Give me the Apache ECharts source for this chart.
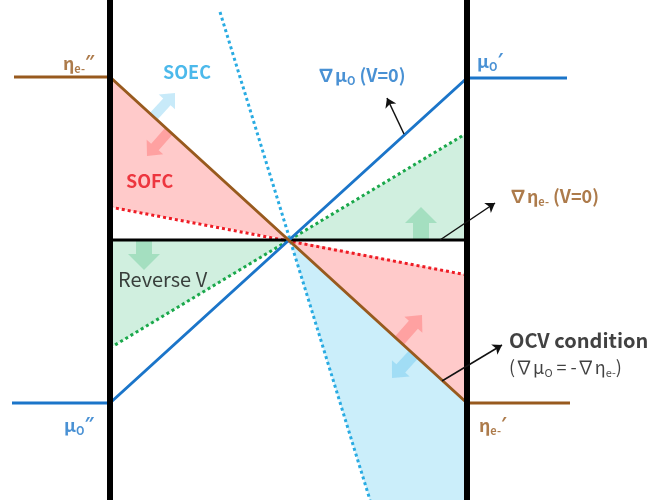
<!DOCTYPE html>
<html>
<head>
<meta charset="utf-8">
<script src="https://cdn.jsdelivr.net/npm/echarts@6/dist/echarts.min.js"></script>
<style>
html, body { margin: 0; padding: 0; background: #fff; }
#chart { width: 654px; height: 500px; }
</style>
</head>
<body>
<div id="chart"></div>
<script>
// diagram geometry, in picture units (x 0..654 left->right, y 0..500 top->bottom)
var wallLeft = [[110, 0], [110, 500]];
var wallRight = [[467, 0], [467, 500]];
var baseLine = [[110, 240], [467, 240]];
var muLine = [[12, 403], [110, 403], [467, 78], [567, 78]];
var etaLine = [[14, 77], [110, 77], [467, 403], [570, 403]];
var redDots = [[110, 207], [467, 275]];
var greenDots = [[110, 348], [467, 133]];
var cyanDots = [[220, 12], [370, 500]];

var pinkFills = [
  [[110, 77], [110, 207], [290, 240]],
  [[290, 240], [467, 275], [467, 403]]
];
var greenFills = [
  [[110, 240], [110, 348], [290, 240]],
  [[290, 240], [467, 133], [467, 240]]
];
var blueFills = [
  [[290, 240], [467, 403], [467, 500], [370, 500]]
];

// fat arrows: [tailX, tailY, tipX, tipY]
var blueArrowsSmall = [[153, 117, 175, 93]];
var pinkArrowsSmall = [[169, 131, 147, 156]];
var blueArrows = [[414, 354, 392, 378]];
var pinkArrows = [[399, 341, 422, 315]];
var greenArrows = [[144, 241, 144, 270], [421, 240, 421, 207]];

// thin pointer arrows: [fromX, fromY, toX, toY]
var pointers = [[404, 134, 387, 98], [440, 240, 495, 203], [442, 381, 502, 345]];

// text labels
var labelPos = [[63, 63], [163, 72], [126, 181], [317, 75], [477, 61], [509, 196],
  [118, 279], [509, 340], [509, 367], [479, 425], [64, 425]];
var labelText = [
  '{m|η}{s|e-}{p|″}',
  'SOEC',
  'SOFC',
  '{m|∇μ}{s|O}{m| (V=0)}',
  '{m|μ}{s|O}{p|′}',
  '{m|∇η}{s|e-}{m| (V=0)}',
  'Reverse V',
  'OCV condition',
  '{n|(∇μ}{t|O}{n| = -∇η}{t|e-}{n|)}',
  '{m|η}{s|e-}{p|′}',
  '{m|μ}{s|O}{p|″}'
];

var FONT = "'Noto Sans CJK KR', 'Noto Sans', sans-serif";
var BLUE = '#1b75c9', BROWN = '#985a1e';

function richFor(color) {
  return {
    m: { color: color, fontFamily: FONT, fontWeight: 'bold', fontSize: 18, lineHeight: 22 },
    p: { color: color, fontFamily: "'Noto Sans', sans-serif", fontWeight: 'bold', fontSize: 18, lineHeight: 22 },
    s: { color: color, fontFamily: FONT, fontWeight: 'bold', fontSize: 11, lineHeight: 14, verticalAlign: 'bottom' },
    n: { color: '#111', fontFamily: FONT, fontSize: 18, lineHeight: 22 },
    t: { color: '#111', fontFamily: FONT, fontSize: 11, lineHeight: 14, verticalAlign: 'bottom' }
  };
}
var labelColors = [BROWN, '#1fa8e6', '#e8101c', BLUE, BLUE, BROWN, '#111', '#111', '#111', BROWN, BLUE];
var labelWeights = ['bold', 'bold', 'bold', 'bold', 'bold', 'bold', 'normal', 'bold', 'normal', 'bold', 'bold'];
var labelSizes = [18, 18, 18, 18, 18, 18, 20, 20, 18, 18, 18];

function polySeries(polys, color) {
  return {
    type: 'custom', z: 1, silent: true,
    data: polys.map(function (p, i) { return [i, 0]; }),
    renderItem: function (params, api) {
      var pts = polys[params.dataIndex].map(function (p) { return api.coord(p); });
      return { type: 'polygon', shape: { points: pts }, style: { fill: color } };
    }
  };
}

function arrowSeries(list, color, shaftW, headW, headL) {
  return {
    type: 'custom', z: 2, silent: true,
    data: list.map(function (a, i) { return [i, 0]; }),
    renderItem: function (params, api) {
      var a = list[params.dataIndex];
      var p0 = api.coord([a[0], a[1]]), p1 = api.coord([a[2], a[3]]);
      var dx = p1[0] - p0[0], dy = p1[1] - p0[1];
      var len = Math.sqrt(dx * dx + dy * dy);
      var ux = dx / len, uy = dy / len, nx = -uy, ny = ux;
      var bx = p1[0] - ux * headL, by = p1[1] - uy * headL;
      var s = shaftW / 2, h = headW / 2;
      var pts = [
        [p0[0] + nx * s, p0[1] + ny * s],
        [bx + nx * s, by + ny * s],
        [bx + nx * h, by + ny * h],
        [p1[0], p1[1]],
        [bx - nx * h, by - ny * h],
        [bx - nx * s, by - ny * s],
        [p0[0] - nx * s, p0[1] - ny * s]
      ];
      return { type: 'polygon', shape: { points: pts }, style: { fill: color } };
    }
  };
}

function lineSeries(pts, color, width, type, z) {
  return {
    type: 'line', data: pts, symbol: 'none', silent: true, z: z,
    lineStyle: { color: color, width: width, type: type, cap: 'butt' }
  };
}

var chart = echarts.init(document.getElementById('chart'));
chart.setOption({
  animation: false,
  grid: { left: 0, right: 0, top: 0, bottom: 0 },
  xAxis: { type: 'value', min: 0, max: 654, show: false },
  yAxis: { type: 'value', min: 0, max: 500, inverse: true, show: false },
  series: [
    polySeries(pinkFills, '#ffcaca'),
    polySeries(greenFills, '#d0efdf'),
    polySeries(blueFills, '#cbeefa'),
    arrowSeries(blueArrowsSmall, 'rgba(110,200,240,0.38)', 10, 22, 12),
    arrowSeries(pinkArrowsSmall, 'rgba(255,110,110,0.45)', 10, 22, 12),
    arrowSeries(blueArrows, 'rgba(110,200,240,0.45)', 12, 24, 13),
    arrowSeries(pinkArrows, 'rgba(255,110,110,0.45)', 12, 24, 13),
    arrowSeries(greenArrows, 'rgba(110,205,155,0.45)', 16, 32, 16),
    lineSeries(redDots, '#ee1c25', 3, [3, 3], 3),
    lineSeries(greenDots, '#1aa84b', 3, [3, 3], 3),
    lineSeries(cyanDots, '#29abe2', 3, [3, 3], 3),
    lineSeries(baseLine, '#000', 3, 'solid', 4),
    lineSeries(muLine, BLUE, 3, 'solid', 5),
    lineSeries(etaLine, BROWN, 3, 'solid', 5),
    lineSeries(wallLeft, '#000', 6, 'solid', 6),
    lineSeries(wallRight, '#000', 6, 'solid', 6),
    {
      type: 'lines', coordinateSystem: 'cartesian2d', z: 7, silent: true,
      symbol: ['none', 'arrow'], symbolSize: 9,
      lineStyle: { color: '#111', width: 1.5, opacity: 1 },
      data: pointers.map(function (a) { return { coords: [[a[0], a[1]], [a[2], a[3]]] }; })
    },
    {
      type: 'scatter', z: 8, silent: true, symbolSize: 0,
      data: labelPos.map(function (p, i) {
        return {
          value: p,
          label: {
            show: true, position: [0, 0], align: 'left', verticalAlign: 'middle',
            formatter: labelText[i], color: labelColors[i], fontFamily: FONT,
            fontWeight: labelWeights[i], fontSize: labelSizes[i], rich: richFor(labelColors[i])
          }
        };
      })
    }
  ]
});
</script>
</body>
</html>
